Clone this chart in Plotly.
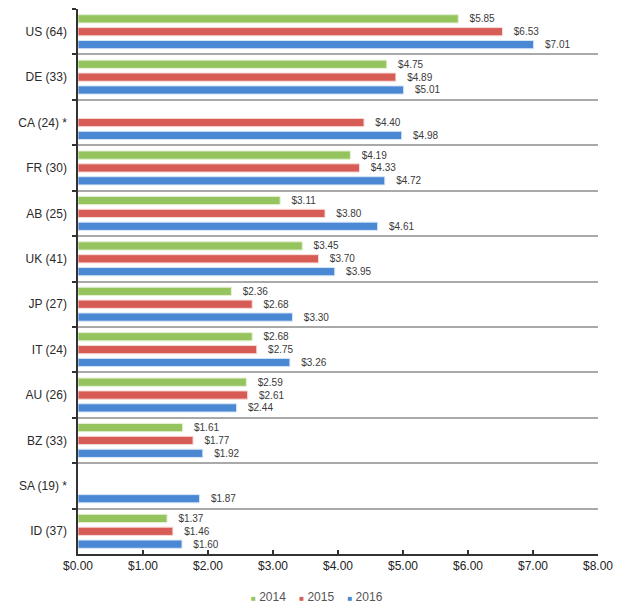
import plotly.graph_objects as go

# Market labels (sample size in parentheses)
markets = ["US (64)", "DE (33)", "CA (24) *", "FR (30)", "AB (25)", "UK (41)",
           "JP (27)", "IT (24)", "AU (26)", "BZ (33)", "SA (19) *", "ID (37)"]

# Average values per year, in dollars (None = no data for that year)
vals_2014 = [5.85, 4.75, None, 4.19, 3.11, 3.45, 2.36, 2.68, 2.59, 1.61, None, 1.37]
vals_2015 = [6.53, 4.89, 4.40, 4.33, 3.80, 3.70, 2.68, 2.75, 2.61, 1.77, None, 1.46]
vals_2016 = [7.01, 5.01, 4.98, 4.72, 4.61, 3.95, 3.30, 3.26, 2.44, 1.92, 1.87, 1.60]

x_ticks = [0, 1, 2, 3, 4, 5, 6, 7, 8]

series = [
    ("2014", vals_2014, "#95c45f", "#e4f0d2"),
    ("2015", vals_2015, "#d75c56", "#f6dcd9"),
    ("2016", vals_2016, "#4a88d3", "#d9e6f6"),
]

FONT = "Liberation Sans, Arial, sans-serif"

fig = go.Figure()
for name, vals, color, edge in series:
    fig.add_trace(go.Bar(
        name=name,
        y=markets,
        x=vals,
        orientation="h",
        marker=dict(color=color, line=dict(color=edge, width=1)),
        text=["" if v is None else f"   ${v:.2f}" for v in vals],
        textposition="outside",
        constraintext="none",
        cliponaxis=False,
        textfont=dict(family=FONT, size=10, color="#3a3a3a"),
        showlegend=False,
    ))

# Compact key below the axis: small coloured squares followed by the year
gap = "\u00a0" * 4
key_text = gap.join(
    f"<span style='color:{color};font-size:8px'>■</span>\u00a0{name}"
    for name, _, color, _ in series
)
fig.add_annotation(
    text=key_text,
    xref="paper", yref="paper",
    x=0.46, y=-0.079,
    xanchor="center", yanchor="middle",
    showarrow=False,
    font=dict(family=FONT, size=12, color="#555555"),
)

fig.update_layout(
    width=624,
    height=604,
    margin=dict(l=78, r=26, t=9, b=50),
    paper_bgcolor="white",
    plot_bgcolor="white",
    barmode="group",
    bargap=0.15,
    bargroupgap=0.36,
    font=dict(family=FONT, color="#333333"),
    showlegend=False,
)

fig.update_xaxes(
    range=[0, 8],
    tickvals=x_ticks,
    tickformat="$.2f",
    showgrid=False,
    zeroline=False,
    showline=True,
    linecolor="#333333",
    linewidth=2,
    ticks="inside",
    ticklen=4,
    tickwidth=1.5,
    tickcolor="#333333",
    tickfont=dict(size=12, color="#222222"),
)

fig.update_yaxes(
    type="category",
    autorange="reversed",
    tickson="boundaries",
    showgrid=True,
    gridcolor="#a9a9a9",
    gridwidth=1.5,
    showline=True,
    linecolor="#333333",
    linewidth=2,
    ticks="outside",
    ticklen=4,
    tickwidth=1.5,
    tickcolor="#333333",
    tickfont=dict(size=12, color="#2a2a2a"),
    ticksuffix="  ",
)

fig.write_html("out.html")
